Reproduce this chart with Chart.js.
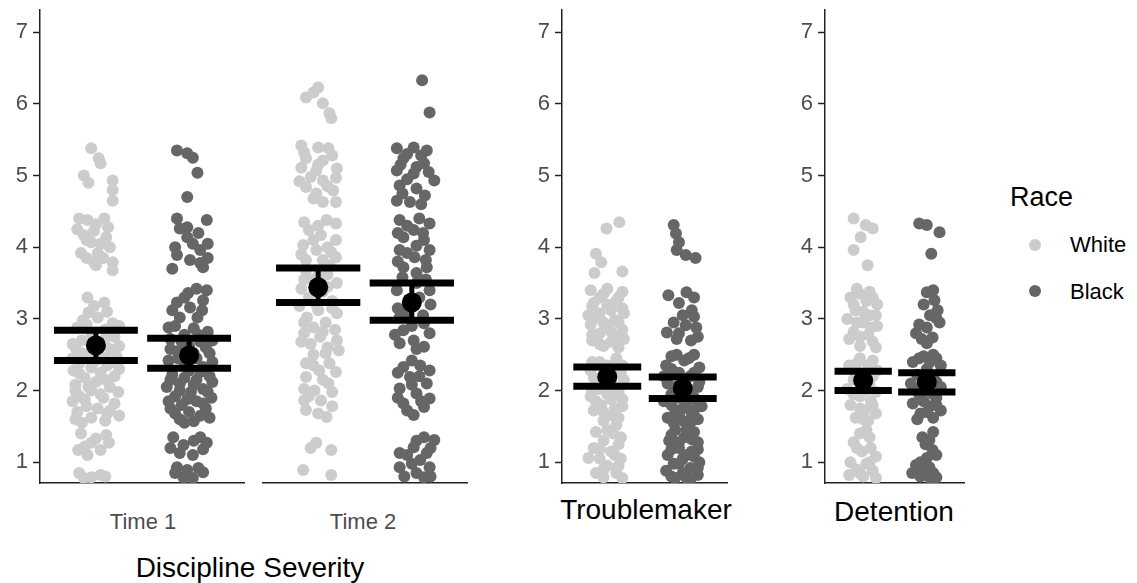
<!DOCTYPE html>
<html>
<head>
<meta charset="utf-8">
<script src="https://cdn.jsdelivr.net/npm/chart.js@4.4.1/dist/chart.umd.min.js"></script>
<style>
  body { margin: 0; background: #fff; width: 1137px; height: 583px; position: relative; overflow: hidden;
         font-family: "Liberation Sans", Arial, sans-serif; }
  .panel { position: absolute; top: 0; height: 490px; }
  .lbl { position: absolute; white-space: nowrap; line-height: 1; transform: translate(-50%, -50%); }
  .tick { font-size: 22px; color: #4d4d4d; }
  .title { font-size: 28px; color: #000; }
  .leg { position: absolute; white-space: nowrap; line-height: 1; transform: translateY(-50%); }
  .dot { position: absolute; width: 12px; height: 12px; border-radius: 50%; transform: translate(-50%, -50%); }
</style>
</head>
<body>
<div class="panel" style="left:0;width:245px"><canvas id="time1"></canvas></div>
<div class="panel" style="left:262px;width:206px"><canvas id="time2"></canvas></div>
<div class="panel" style="left:522px;width:206px"><canvas id="trouble"></canvas></div>
<div class="panel" style="left:785px;width:180px"><canvas id="detention"></canvas></div>

<div class="lbl tick" style="left:143px;top:522px">Time 1</div>
<div class="lbl tick" style="left:363px;top:522px">Time 2</div>
<div class="lbl title" style="left:250px;top:568px">Discipline Severity</div>
<div class="lbl title" style="left:646px;top:510px">Troublemaker</div>
<div class="lbl title" style="left:894px;top:512px">Detention</div>

<div class="leg title" style="left:1010px;top:197px;font-size:27px">Race</div>
<div class="dot" style="left:1035px;top:245px;background:#cccccc"></div>
<div class="leg" style="left:1070px;top:245px;font-size:22px">White</div>
<div class="dot" style="left:1035px;top:291px;background:#666666"></div>
<div class="leg" style="left:1070px;top:292px;font-size:22px">Black</div>

<script>
const races = ["White", "Black"];
const raceColors = ["#cccccc", "#666666"];
const yTicks = [1, 2, 3, 4, 5, 6, 7];

// summary per panel: Time 1, Time 2, Troublemaker, Detention
const meanWhite = [2.63, 3.44, 2.19, 2.14];
const lowWhite = [2.42, 3.23, 2.06, 2.00];
const highWhite = [2.84, 3.71, 2.33, 2.27];
const meanBlack = [2.49, 3.23, 2.03, 2.12];
const lowBlack = [2.31, 2.98, 1.89, 1.98];
const highBlack = [2.73, 3.50, 2.19, 2.25];

// jittered raw points: [horizontal jitter, score]
const t1White = [
  [-0.05,5.38],[0.03,5.24],[0.05,5.17],[-0.13,5.0],[-0.08,4.9],[0.18,4.93],[0.18,4.8],[0.18,4.65],
  [-0.18,4.40],[-0.09,4.38],[0.09,4.40],[0.13,4.28],[-0.02,4.23],[-0.13,4.17],[0.11,4.14],[-0.05,4.07],
  [0.05,4.05],[-0.16,3.92],[0.02,3.92],[-0.02,3.79],[0.18,3.79],[0.18,3.68],[0,3.75],
  [0.0,4.32],[-0.1,4.1],[0.15,4.0],[-0.2,4.25],[0.08,3.85],[-0.1,3.85],
  [-0.09,3.30],[0.09,3.23],[-0.08,3.09],[-0.14,2.98],[0.18,2.94],[0.02,3.02],[-0.02,3.18],[0.12,3.1],
  [-0.2,2.88],[0.1,2.85],[-0.05,2.8],[0.2,2.75],[-0.15,2.7],[0.05,2.68],[-0.22,2.6],[0.15,2.58],
  [-0.08,2.5],[0.22,2.48],[0,2.42],[-0.18,2.38],[0.12,2.35],[-0.24,2.28],[0.05,2.25],[0.2,2.2],
  [-0.12,2.18],[0.0,2.12],[-0.22,2.08],[0.15,2.05],[-0.05,2.0],[0.24,1.98],[-0.18,1.92],[0.08,1.9],
  [-0.25,1.85],[0.2,1.82],[-0.1,1.78],[0.02,1.75],[-0.2,1.7],[0.12,1.68],[-0.05,1.62],[-0.22,1.6],
  [0.25,2.9],[-0.1,2.92],[0.1,2.72],[-0.25,2.65],[0.0,2.55],[0.25,2.62],[-0.15,2.52],[0.1,2.45],
  [-0.05,2.32],[0.25,2.3],[-0.18,2.24],[0.1,2.15],[-0.08,2.05],[0.05,1.95],[-0.12,1.88],[0.15,1.72],
  [0.25,1.65],[-0.15,1.55],[0.1,1.58],[-0.22,2.0],[0.18,2.4],[-0.25,2.45],
  [-0.16,1.40],[0.11,1.38],[-0.05,1.27],[-0.19,1.17],[0.05,1.17],[0.14,1.27],[-0.09,1.10],
  [0.0,1.33],[-0.12,1.22],
  [-0.18,0.85],[-0.05,0.79],[0.05,0.82],[-0.13,0.78],[0.1,0.8]
];
const t1Black = [
  [-0.13,5.35],[-0.02,5.31],[0.04,5.25],[0.09,5.04],[-0.02,4.70],
  [-0.13,4.40],[0.19,4.38],[-0.10,4.26],[-0.02,4.14],[0.2,4.05],[0.04,4.05],[0.12,3.96],[-0.13,3.89],
  [0.01,3.82],[0.12,3.78],[-0.18,3.70],[0.15,3.72],
  [-0.02,4.28],[0.1,4.2],[-0.15,4.0],[0.2,3.85],
  [0.19,3.40],[-0.01,3.36],[-0.13,3.23],[0.15,3.26],[0.01,3.16],[0.14,3.12],[-0.1,3.02],[0.09,3.02],
  [-0.05,3.3],[0.08,3.42],[-0.18,3.12],
  [-0.15,2.9],[0.05,2.87],[0.2,2.82],[-0.05,2.78],[-0.2,2.72],[0.12,2.68],[0.0,2.62],[-0.12,2.55],
  [0.22,2.52],[0.08,2.45],[-0.22,2.42],[-0.05,2.38],[0.15,2.33],[0.0,2.28],[-0.18,2.22],[0.22,2.2],
  [0.08,2.15],[-0.1,2.1],[-0.24,2.05],[0.15,2.02],[0.02,1.98],[-0.15,1.92],[0.24,1.9],[0.08,1.85],
  [-0.08,1.8],[0.18,1.75],[-0.2,1.75],[0.0,1.7],[0.12,1.65],[-0.1,1.6],[0.05,1.57],
  [-0.22,2.88],[0.1,2.78],[0.25,2.7],[-0.08,2.68],[0.18,2.6],[-0.2,2.58],[0.05,2.52],[-0.12,2.45],
  [0.25,2.4],[0.12,2.26],[-0.05,2.18],[0.25,2.12],[-0.2,2.15],[0.05,2.08],[-0.1,2.0],[0.2,1.98],
  [-0.22,1.85],[-0.02,1.88],[0.15,1.82],[-0.15,1.68],[0.22,1.62],[-0.05,1.55],
  [-0.17,1.35],[0.12,1.35],[-0.06,1.24],[0.19,1.27],[-0.1,1.13],[0.04,1.10],
  [0.05,1.3],[-0.2,1.2],[0.15,1.18],
  [-0.13,0.93],[-0.02,0.89],[0.15,0.86],[-0.06,0.79],[0.04,0.78],[-0.15,0.85],[0.1,0.92]
];
const t2White = [
  [-0.13,6.09],[0,6.23],[-0.05,6.16],[0.05,6.01],[0.12,5.87],[0.14,5.80],
  [-0.18,5.42],[0,5.39],[0.11,5.38],[-0.13,5.24],[0.05,5.21],[-0.18,5.11],[-0.02,5.07],[0.19,4.97],
  [0.05,4.93],[-0.13,4.84],[0.16,4.79],[-0.02,4.75],[0.19,4.63],[0.05,4.63],
  [-0.15,5.32],[0.15,5.28],[0.0,5.15],[0.2,5.1],[-0.08,4.98],[-0.2,4.92],[0.1,4.85],[-0.05,4.68],
  [0.09,4.38],[0.19,4.33],[-0.1,4.24],[0.03,4.17],[0.19,4.10],[-0.16,4.03],[-0.02,3.96],[0.14,3.93],
  [-0.13,3.82],[0.05,3.82],[0.19,3.86],
  [-0.15,4.35],[0.0,4.3],[-0.05,4.1],[0.1,4.0],[-0.18,3.9],[0.12,3.75],
  [-0.13,3.68],[0.1,3.62],[-0.05,3.55],[0.2,3.5],[-0.18,3.42],[0.05,3.38],[-0.1,3.3],[0.15,3.25],
  [-0.2,3.18],[0.0,3.12],[0.2,3.08],[-0.12,3.02],[0.08,2.95],[-0.05,2.88],[0.18,2.85],[-0.15,2.8],
  [0.02,2.75],[0.2,2.7],[-0.08,2.65],[0.1,2.6],[0.22,2.56],
  [0.0,3.6],[-0.15,3.55],[0.1,3.45],[-0.02,3.2],[0.15,3.15],[-0.15,2.95],[0.05,2.82],[-0.18,2.68],
  [0.08,2.52],[-0.05,2.5],
  [-0.13,2.38],[0.12,2.38],[0.01,2.28],[0.19,2.26],[-0.13,2.19],[0.11,2.10],[-0.04,2.00],
  [-0.15,1.86],[0.03,1.86],[-0.13,1.73],[0.09,1.63],
  [-0.05,2.35],[0.05,2.15],[-0.15,2.02],[0.15,1.98],[-0.1,1.92],[0.0,1.68],[0.15,1.78],
  [-0.02,1.27],[0.14,1.17],[-0.08,1.20],
  [-0.16,0.89],[0.14,0.82]
];
const t2Black = [
  [0.11,6.33],[0.19,5.88],
  [-0.16,5.38],[0.02,5.39],[0.16,5.35],[-0.09,5.24],[0.13,5.17],[-0.16,5.07],[0.02,5.03],[0.24,4.93],
  [-0.13,4.86],[0.05,4.82],[0.14,4.72],[-0.02,4.63],[-0.16,4.65],
  [-0.05,5.3],[0.1,5.28],[-0.12,5.15],[0.05,5.12],[0.18,5.05],[-0.05,4.95],[0.1,4.6],[-0.1,4.75],
  [-0.13,4.38],[0.19,4.33],[0.02,4.24],[-0.09,4.14],[0.13,4.10],[0.19,3.96],[-0.13,3.96],[0.03,3.86],
  [-0.09,3.72],[0.16,3.72],[0.05,3.64],
  [0.08,4.4],[-0.05,4.3],[0.12,4.2],[-0.15,4.2],[0.05,4.02],[-0.05,3.92],[0.15,3.82],[-0.15,3.8],
  [0.05,3.5],[-0.16,3.40],[0.19,3.40],[0.08,3.3],[-0.02,3.22],[-0.05,3.1],[-0.13,3.02],[0.13,2.94],
  [-0.09,2.84],[0.19,2.80],[0.02,2.70],[-0.13,2.66],[0.13,2.61],
  [0.15,3.55],[-0.1,3.58],[0.2,3.2],[-0.15,3.15],[0.12,3.05],[0.0,2.9],[-0.18,2.78],[0.05,2.58],
  [-0.09,2.33],[0.09,2.35],[0.19,2.28],[-0.02,2.19],[0.16,2.10],[-0.13,2.03],[0.05,1.96],[0.19,1.89],
  [-0.09,1.82],[0.13,1.77],[0.02,1.66],
  [0.0,2.42],[-0.15,2.25],[0.08,2.2],[0.0,2.08],[-0.15,1.9],[0.1,1.85],[-0.05,1.72],
  [0.13,1.35],[0.24,1.31],[0.02,1.21],[-0.13,1.13],[0.16,1.13],[0.09,1.03],[-0.13,0.93],[0.19,0.93],
  [0.05,0.85],[0.13,0.79],
  [0.05,1.3],[0.2,1.2],[-0.05,1.1],[0.0,0.98],[0.2,0.8],[-0.08,0.8]
];
const tmWhite = [
  [0.16,4.35],[-0.01,4.26],[-0.15,3.91],[-0.08,3.79],[-0.17,3.64],[0.2,3.66],
  [-0.22,3.4],[0.0,3.42],[0.2,3.38],[-0.1,3.3],[0.12,3.25],[-0.2,3.18],[0.05,3.12],[0.22,3.08],
  [-0.12,3.02],[0.1,2.98],[-0.22,2.92],[0.0,2.88],[0.2,2.85],[-0.1,2.8],[0.12,2.75],[-0.2,2.7],
  [0.05,2.68],[-0.05,2.62],[0.15,2.6],
  [-0.05,3.35],[0.15,3.3],[-0.18,3.22],[0.0,3.2],[0.2,3.15],[-0.1,3.08],[-0.25,3.05],[0.15,2.95],
  [-0.05,2.95],[0.05,2.82],[-0.2,2.78],[0.22,2.72],[-0.1,2.65],
  [0.12,2.45],[-0.2,2.4],[0.2,2.35],[-0.05,2.3],[0.08,2.22],[-0.18,2.18],[0.22,2.15],[0.0,2.1],
  [-0.12,2.02],[0.15,1.98],[-0.22,1.92],[0.05,1.88],[-0.08,1.8],[0.2,1.78],[-0.18,1.72],[0.08,1.65],
  [-0.05,1.58],[0.12,1.52],
  [-0.1,2.4],[0.0,2.35],[-0.22,2.28],[0.18,2.25],[-0.05,2.18],[0.1,2.05],[-0.2,2.0],[0.0,1.95],
  [0.2,1.88],[-0.15,1.85],[0.1,1.75],[-0.05,1.7],[0.15,1.62],
  [-0.15,1.42],[0.08,1.4],[-0.05,1.3],[0.15,1.25],[-0.18,1.2],[0.05,1.15],[-0.1,1.05],[0.18,1.05],
  [-0.25,1.06],[0.0,0.95],[-0.15,0.85],[0.12,0.85],[-0.05,0.79],[0.2,0.78],
  [0.0,1.45],[0.18,1.35],[-0.1,1.18],[0.1,1.1],[-0.05,0.9],[0.15,0.95]
];
const tmBlack = [
  [-0.12,4.31],[-0.09,4.19],[-0.05,4.07],[-0.08,3.96],[0.04,3.89],[0.17,3.85],
  [0.05,3.37],[-0.19,3.33],[-0.05,3.22],[0.12,3.12],[0.15,3.03],[0.04,2.91],[-0.21,2.81],[-0.05,2.80],
  [0.11,2.70],
  [0.15,3.3],[0.0,3.05],[-0.12,2.95],[0.18,2.88],[-0.08,2.72],[0.2,2.75],
  [-0.15,2.48],[0.15,2.5],[0.02,2.42],[-0.22,2.35],[0.22,2.32],[-0.05,2.25],[0.1,2.2],[-0.2,2.1],
  [0.2,2.05],[0.0,2.0],[-0.15,1.95],[0.15,1.9],[-0.25,1.85],[0.05,1.82],[0.25,1.78],[-0.1,1.72],
  [0.12,1.68],[-0.2,1.62],[0.2,1.6],[0.0,1.58],
  [-0.08,2.5],[0.08,2.45],[-0.15,2.3],[0.15,2.25],[-0.25,2.2],[0.0,2.15],[0.22,2.12],[-0.1,2.05],
  [0.1,1.98],[-0.05,1.9],[0.2,1.85],[-0.15,1.8],[0.0,1.75],[0.15,1.72],[-0.05,1.65],[0.1,1.55],
  [-0.12,1.55],
  [-0.1,1.45],[0.15,1.42],[0.02,1.35],[-0.18,1.3],[0.2,1.28],[-0.05,1.2],[0.12,1.15],[-0.2,1.1],
  [0.0,1.05],[0.22,1.0],[-0.12,0.98],[0.1,0.92],[-0.22,0.88],[0.0,0.85],[0.2,0.82],[-0.1,0.78],[0.1,0.76],
  [0.05,1.45],[-0.15,1.38],[0.12,1.32],[-0.05,1.28],[0.2,1.18],[-0.15,1.18],[0.05,1.1],[0.15,1.08],
  [-0.05,0.98],[0.2,0.92],[-0.15,0.8],[0.05,0.78]
];
const detWhite = [
  [-0.15,4.40],[0.04,4.31],[0.15,4.26],[-0.04,4.14],[-0.15,3.96],[0.07,3.75],
  [-0.1,3.42],[0.1,3.38],[-0.2,3.3],[0.05,3.25],[0.22,3.2],[-0.12,3.12],[0.1,3.05],[-0.25,3.0],
  [0.0,2.95],[0.22,2.9],[-0.15,2.82],[0.08,2.78],[-0.22,2.72],[0.15,2.68],[-0.05,2.62],
  [-0.05,3.35],[0.15,3.3],[-0.15,3.2],[0.0,3.1],[0.2,3.05],[-0.1,2.95],[0.12,2.88],[-0.05,2.75],[0.2,2.6],
  [-0.05,2.45],[0.15,2.42],[-0.22,2.35],[0.22,2.28],[0.0,2.22],[-0.15,2.15],[0.1,2.08],[-0.25,2.02],
  [0.2,1.98],[-0.05,1.92],[0.12,1.85],[-0.2,1.8],[0.02,1.72],[0.2,1.68],[-0.12,1.62],[0.08,1.58],
  [-0.1,2.38],[0.08,2.35],[0.15,2.2],[-0.05,2.1],[0.05,2.0],[-0.15,1.95],[0.15,1.8],[-0.05,1.75],[0.0,1.6],
  [-0.05,1.4],[0.1,1.35],[-0.15,1.28],[0.12,1.2],[-0.02,1.15],[0.2,1.08],[-0.2,1.0],[0.05,0.98],
  [-0.1,0.9],[0.15,0.88],[-0.22,0.82],[0.0,0.8],[0.2,0.78],
  [0.05,1.45],[-0.1,1.2],[0.1,1.0],[-0.05,0.85]
];
const detBlack = [
  [-0.12,4.33],[0.0,4.31],[0.2,4.21],[0.07,3.91],
  [0.0,3.37],[0.12,3.26],[0.17,3.12],[0.15,3.01],[0.0,2.88],[-0.17,2.80],[0.09,2.74],[0.0,2.66],
  [0.1,3.4],[-0.05,3.2],[0.05,3.05],[-0.12,2.92],[0.2,2.95],[-0.08,2.72],
  [-0.05,2.48],[0.15,2.45],[-0.22,2.4],[0.22,2.35],[0.0,2.3],[-0.15,2.22],[0.1,2.18],[-0.25,2.1],
  [0.22,2.05],[0.0,2.0],[-0.12,1.95],[0.15,1.9],[-0.22,1.82],[0.05,1.78],[0.22,1.72],[-0.1,1.68],
  [0.1,1.62],
  [0.1,2.5],[-0.12,2.45],[0.05,2.4],[-0.05,2.15],[0.15,2.12],[-0.18,2.02],[0.1,1.95],[-0.05,1.85],
  [0.15,1.8],[0.0,1.7],[-0.15,1.6],
  [-0.07,1.35],[0.04,1.31],[0.09,1.17],[0,1.06],[-0.17,0.96],[0.04,0.93],[-0.23,0.85],[0.15,0.79],
  [-0.1,0.8],[0.05,0.78],
  [0.1,1.42],[-0.02,1.25],[0.15,1.1],[-0.1,1.0],[0.1,0.85],[-0.05,0.9]
];

const axisColor = "#222";

function buildDatasets(idx, whitePts, blackPts) {
  const summary = [[meanWhite, lowWhite, highWhite], [meanBlack, lowBlack, highBlack]];
  const datasets = [];
  [whitePts, blackPts].forEach((pts, g) => {
    const cx = g + 1;
    const [m, lo, hi] = summary[g].map((a) => a[idx]);
    const bar = { showLine: true, pointRadius: 0, borderColor: "#000", borderCapStyle: "butt", order: 0 };
    datasets.push({ ...bar, borderWidth: 7, data: [{ x: cx - 0.45, y: hi }, { x: cx + 0.45, y: hi }] });
    datasets.push({ ...bar, borderWidth: 7, data: [{ x: cx - 0.45, y: lo }, { x: cx + 0.45, y: lo }] });
    datasets.push({ ...bar, borderWidth: 5, data: [{ x: cx, y: lo }, { x: cx, y: hi }] });
    datasets.push({ data: [{ x: cx, y: m }], pointRadius: 10, backgroundColor: "#000", borderWidth: 0, order: 0 });
    datasets.push({
      label: races[g],
      data: pts.map(([dx, v]) => ({ x: cx + dx, y: v })),
      pointRadius: 6,
      backgroundColor: raceColors[g],
      borderWidth: 0,
      order: 1,
    });
  });
  return datasets;
}

function makePanel(canvasId, idx, whitePts, blackPts, showY) {
  new Chart(document.getElementById(canvasId), {
    type: "scatter",
    data: { datasets: buildDatasets(idx, whitePts, blackPts) },
    options: {
      responsive: true,
      maintainAspectRatio: false,
      animation: false,
      events: [],
      layout: { autoPadding: false, padding: { top: 10, bottom: 7, left: 0, right: 0 } },
      scales: {
        x: {
          type: "linear",
          min: 0.4,
          max: 2.6,
          ticks: { display: false },
          grid: { display: false, drawTicks: false },
          border: { display: true, color: axisColor, width: 1.5 },
          afterFit: (s) => { s.height = 0; s.paddingLeft = 0; s.paddingRight = 0; },
        },
        y: {
          display: showY,
          min: 0.71,
          max: 7.31,
          afterBuildTicks: (s) => { s.ticks = yTicks.map((v) => ({ value: v })); },
          ticks: {
            padding: 5,
            color: "#4d4d4d",
            font: { family: "Liberation Sans", size: 22 },
          },
          grid: { drawOnChartArea: false, tickLength: 7, tickColor: axisColor, tickWidth: 1.5 },
          border: { display: true, color: axisColor, width: 1.5 },
          afterFit: (s) => {
            s.width = showY ? 40 : 0;
            s.paddingTop = 0;
            s.paddingBottom = 0;
          },
        },
      },
      plugins: { legend: { display: false }, tooltip: { enabled: false } },
    },
  });
}

makePanel("time1", 0, t1White, t1Black, true);
makePanel("time2", 1, t2White, t2Black, false);
makePanel("trouble", 2, tmWhite, tmBlack, true);
makePanel("detention", 3, detWhite, detBlack, true);
</script>
</body>
</html>
